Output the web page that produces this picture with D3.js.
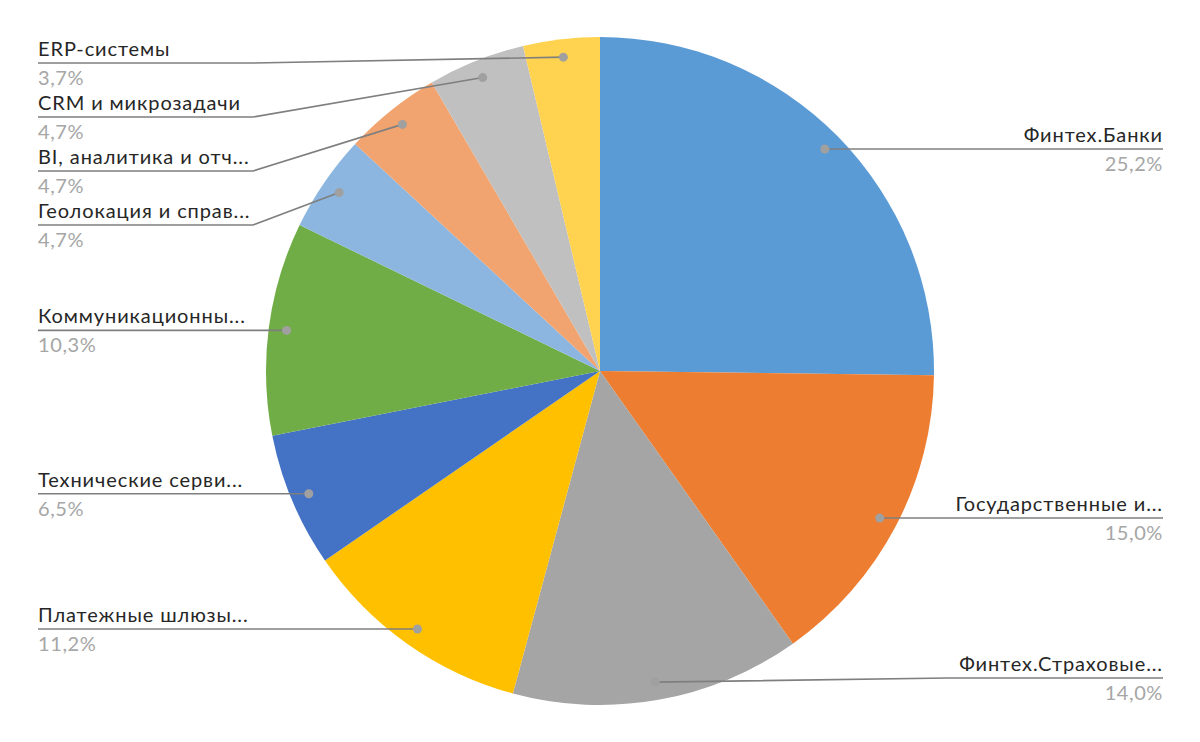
<!DOCTYPE html>
<html><head><meta charset="utf-8">
<script src="https://cdn.jsdelivr.net/npm/d3@7"></script>
<style>body{margin:0;background:#fff}svg{display:block}text{font-family:Lato,"Noto Sans",sans-serif}</style>
</head><body><svg id="c" width="1200" height="742"></svg>
<script>
const categories = ["Финтех.Банки","Государственные и...","Финтех.Страховые...","Платежные шлюзы...","Технические серви...","Коммуникационны...","Геолокация и справ...","BI, аналитика и отч...","CRM и микрозадачи","ERP-системы"];
const values = [25.2,15.0,14.0,11.2,6.5,10.3,4.7,4.7,4.7,3.7];
const valueLabels = ["25,2%","15,0%","14,0%","11,2%","6,5%","10,3%","4,7%","4,7%","4,7%","3,7%"];
const colors = ["#5B9BD5","#ED7D31","#A5A5A5","#FFC000","#4472C4","#70AD47","#8CB6E0","#F1A46F","#C0C0C0","#FFD34F"];

const svg = d3.select("#c");
const cx = 600, cy = 371, R = 334, rDot = 316;
const g = svg.append("g").attr("transform", `translate(${cx},${cy})`);
const pie = d3.pie().sort(null).value(d => d.v);
const data = categories.map((c,i)=>({c, v: values[i], l: valueLabels[i], col: colors[i]}));
const arcs = pie(data);
const arc = d3.arc().innerRadius(0).outerRadius(R);
g.selectAll("path.s").data(arcs).enter().append("path").attr("class","s")
  .attr("d", arc).attr("fill", d => d.data.col);

const items = arcs.map(a => {
  const m = (a.startAngle + a.endAngle)/2;
  return {a, x: cx + Math.sin(m)*rDot, y: cy - Math.cos(m)*rDot, right: Math.sin(m) > 0};
});
const left = items.filter(d=>!d.right).sort((a,b)=>a.y-b.y);
let prev = -Infinity;
left.forEach((d,i)=>{ let y = Math.max(d.y, 63); if (i>0) y = Math.max(y, prev+54); d.ly = y; prev = y; });
const right = items.filter(d=>d.right).sort((a,b)=>a.y-b.y);
right.forEach(d=>{ d.ly = Math.min(d.y, 678); });

const lineCol = "#7F7F7F";
const leftX = 38, rightX = 1163, bendW = 215;
items.forEach(d => {
  const x0 = d.right ? rightX : leftX;
  const xb = d.right ? rightX - bendW : leftX + bendW;
  const pts = Math.abs(d.ly - d.y) > 0.5 ? [[x0,d.ly],[xb,d.ly],[d.x,d.y]] : [[x0,d.ly],[d.x,d.y]];
  svg.append("path").attr("d", d3.line()(pts)).attr("fill","none")
     .attr("stroke", lineCol).attr("stroke-width",1.6);
  svg.append("circle").attr("cx", d.x).attr("cy", d.y).attr("r", 4.5).attr("fill","#A0A0A0");
  const anchor = d.right ? "end" : "start";
  svg.append("text").attr("x", x0).attr("y", d.ly - 7).attr("text-anchor", anchor)
     .attr("font-size", 20).attr("letter-spacing", 0.9).attr("fill","#262626").text(d.a.data.c);
  svg.append("text").attr("x", x0).attr("y", d.ly + 22).attr("text-anchor", anchor)
     .attr("font-size", 20).attr("letter-spacing", 0.6).attr("fill","#A6A6A6").text(d.a.data.l);
});
</script></body></html>
